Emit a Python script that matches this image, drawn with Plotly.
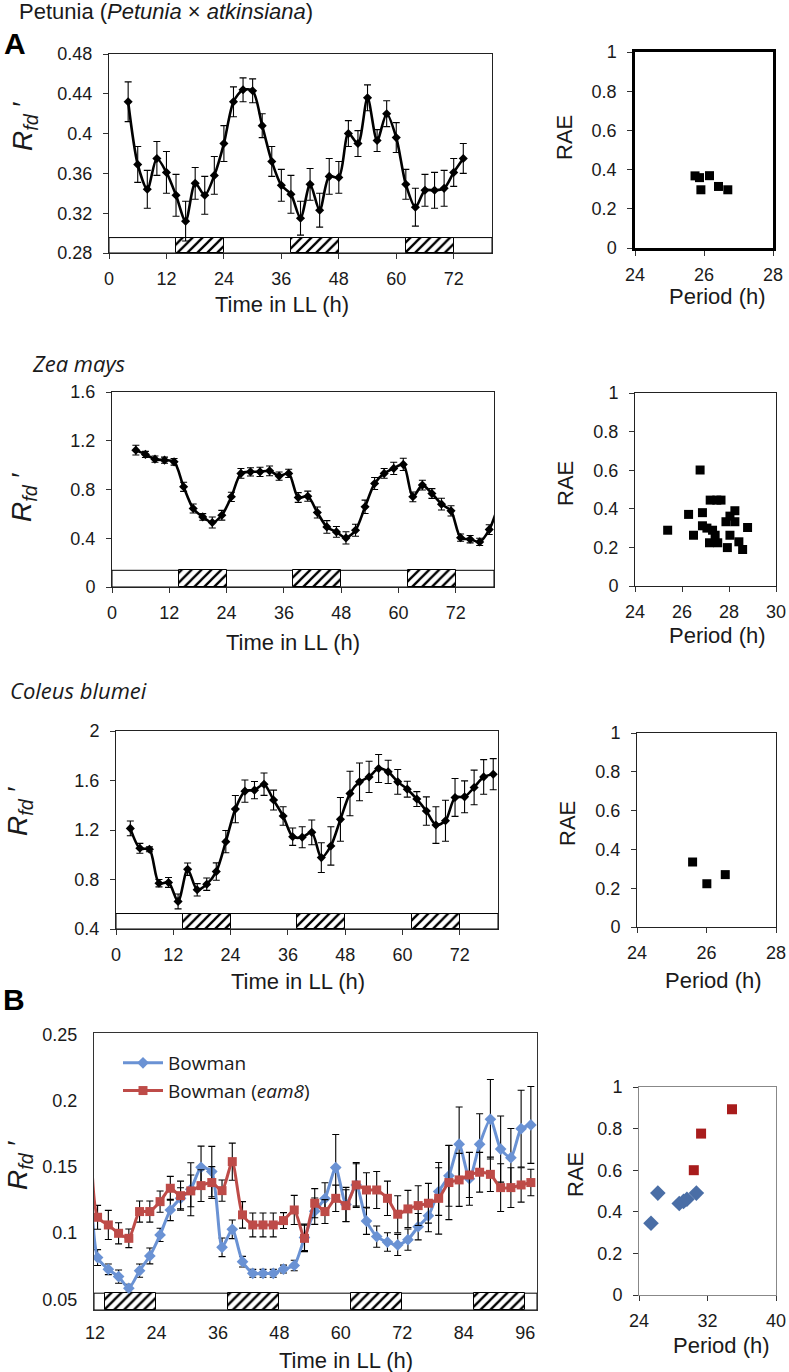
import plotly.graph_objects as go

W, H = 789, 1372

# ---------------- DATA ----------------
# Panel A - Petunia
pet_t = [4, 6, 8, 10, 12, 14, 16, 18, 20, 22, 24, 26, 28, 30, 32, 34, 36, 38, 40, 42,
         44, 46, 48, 50, 52, 54, 56, 58, 60, 62, 64, 66, 68, 70, 72, 74]
pet_y = [0.432, 0.369, 0.344, 0.375, 0.361, 0.338, 0.312, 0.350, 0.338, 0.358, 0.390, 0.432,
         0.444, 0.443, 0.408, 0.372, 0.348, 0.339, 0.315, 0.349, 0.323, 0.357, 0.356, 0.400,
         0.390, 0.436, 0.393, 0.420, 0.396, 0.349, 0.326, 0.343, 0.343, 0.345, 0.361, 0.375]
pet_err = [0.020, 0.018, 0.019, 0.017, 0.021, 0.021, 0.020, 0.016, 0.019, 0.019, 0.018, 0.015,
           0.012, 0.012, 0.012, 0.015, 0.016, 0.019, 0.017, 0.016, 0.017, 0.018, 0.016, 0.013,
           0.013, 0.013, 0.011, 0.013, 0.015, 0.015, 0.019, 0.016, 0.018, 0.018, 0.014, 0.015]
pet_period = [25.74, 25.87, 25.91, 26.16, 26.42, 26.69]
pet_rae = [0.368, 0.359, 0.297, 0.369, 0.314, 0.297]

# Zea mays
zea_t = [5, 7, 9, 11, 13, 15, 17, 19, 21, 23, 25, 27, 29, 31, 33, 35, 37, 39, 41, 43,
         45, 47, 49, 51, 53, 55, 57, 59, 61, 63, 65, 67, 69, 71, 73, 75, 77, 79, 81]
zea_y = [1.123, 1.088, 1.049, 1.041, 1.027, 0.822, 0.644, 0.575, 0.529, 0.589, 0.740, 0.932,
         0.945, 0.945, 0.953, 0.910, 0.932, 0.734, 0.745, 0.611, 0.493, 0.452, 0.403, 0.466,
         0.658, 0.849, 0.932, 0.973, 1.006, 0.740, 0.836, 0.767, 0.680, 0.625, 0.405, 0.392,
         0.370, 0.471, 0.680]
zea_err = [0.040, 0.025, 0.026, 0.025, 0.027, 0.037, 0.037, 0.027, 0.045, 0.040, 0.038, 0.040,
           0.034, 0.038, 0.040, 0.034, 0.034, 0.040, 0.042, 0.045, 0.052, 0.044, 0.050, 0.049,
           0.055, 0.049, 0.040, 0.050, 0.050, 0.040, 0.040, 0.040, 0.048, 0.042, 0.030, 0.030,
           0.030, 0.040, 0.040]
zea_period = [25.39, 26.28, 26.49, 26.77, 26.87, 26.87, 27.06, 27.20, 27.17, 27.30, 27.41, 27.48,
              27.52, 27.66, 27.87, 27.93, 28.04, 28.04, 28.25, 28.25, 28.42, 28.58, 28.79]
zea_rae = [0.289, 0.371, 0.263, 0.601, 0.380, 0.312, 0.300, 0.445, 0.224, 0.289, 0.263, 0.445,
           0.224, 0.445, 0.333, 0.199, 0.362, 0.263, 0.333, 0.390, 0.229, 0.189, 0.303]

# Coleus blumei
col_t = [3, 5, 7, 9, 11, 13, 15, 17, 19, 21, 23, 25, 27, 29, 31, 33, 35, 37, 39, 41,
         43, 45, 47, 49, 51, 53, 55, 57, 59, 61, 63, 65, 67, 69, 71, 73, 75, 77, 79]
col_y = [1.213, 1.052, 1.044, 0.770, 0.776, 0.623, 0.883, 0.717, 0.762, 0.864, 1.106, 1.369,
         1.514, 1.522, 1.570, 1.442, 1.313, 1.146, 1.141, 1.181, 0.977, 1.071, 1.286, 1.495,
         1.589, 1.629, 1.697, 1.670, 1.589, 1.530, 1.450, 1.353, 1.240, 1.275, 1.463, 1.468,
         1.544, 1.629, 1.651]
col_err = [0.06, 0.04, 0.02, 0.03, 0.04, 0.06, 0.05, 0.05, 0.05, 0.07, 0.09, 0.11,
           0.09, 0.07, 0.09, 0.08, 0.075, 0.07, 0.085, 0.10, 0.12, 0.155, 0.177, 0.18,
           0.153, 0.126, 0.113, 0.094, 0.10, 0.064, 0.06, 0.115, 0.148, 0.166, 0.153, 0.129,
           0.14, 0.14, 0.126]
col_period = [25.60, 26.01, 26.54]
col_rae = [0.335, 0.223, 0.270]

# Panel B - barley
bar_t = [10.5, 12.5, 14.6, 16.6, 18.6, 20.7, 22.7, 24.7, 26.7, 28.7, 30.7, 32.7, 34.8, 36.8,
         38.8, 40.8, 42.8, 44.8, 46.8, 48.8, 50.9, 52.9, 54.9, 56.9, 59.0, 61.0, 63.0, 65.0,
         67.0, 69.1, 71.1, 73.1, 75.1, 77.1, 79.1, 81.1, 83.1, 85.1, 87.1, 89.2, 91.2, 93.2,
         95.2, 97.1]
bow_y = [0.200, 0.0815, 0.0726, 0.0671, 0.0583, 0.0716, 0.0827, 0.0986, 0.1174, 0.1262, 0.1330,
         0.1496, 0.1464, 0.0892, 0.1028, 0.0784, 0.0696, 0.0696, 0.0696, 0.0728, 0.0755, 0.0967,
         0.1165, 0.1260, 0.1494, 0.1215, 0.1363, 0.1090, 0.0973, 0.0932, 0.0910, 0.0950, 0.1048,
         0.1130, 0.1313, 0.1432, 0.1671, 0.1410, 0.1670, 0.1859, 0.1634, 0.1569, 0.1788, 0.1816]
bow_err = [0.010, 0.006, 0.004, 0.005, 0.003, 0.005, 0.006, 0.005, 0.008, 0.008, 0.020, 0.016,
           0.019, 0.007, 0.007, 0.004, 0.003, 0.003, 0.003, 0.003, 0.004, 0.010, 0.010, 0.012,
           0.025, 0.013, 0.016, 0.010, 0.008, 0.007, 0.008, 0.008, 0.010, 0.012, 0.018, 0.023,
           0.028, 0.020, 0.023, 0.030, 0.025, 0.022, 0.029, 0.029]
eam_y = [0.400, 0.1119, 0.1061, 0.0998, 0.0960, 0.1162, 0.1162, 0.1237, 0.1338, 0.1282, 0.1318,
         0.1358, 0.1381, 0.1320, 0.1539, 0.1137, 0.1061, 0.1061, 0.1061, 0.1094, 0.1174, 0.0960,
         0.1225, 0.1162, 0.1262, 0.1207, 0.1363, 0.1325, 0.1325, 0.1262, 0.1142, 0.1182, 0.1207,
         0.1225, 0.1262, 0.1381, 0.1401, 0.1438, 0.1459, 0.1443, 0.1343, 0.1343, 0.1363, 0.1381]
eam_err = [0.010, 0.009, 0.011, 0.008, 0.007, 0.008, 0.008, 0.008, 0.009, 0.011, 0.012, 0.012,
           0.012, 0.008, 0.014, 0.010, 0.009, 0.009, 0.009, 0.006, 0.011, 0.010, 0.011, 0.009,
           0.010, 0.012, 0.017, 0.013, 0.014, 0.013, 0.014, 0.014, 0.015, 0.015, 0.027, 0.028,
           0.020, 0.017, 0.015, 0.013, 0.018, 0.015, 0.013, 0.010]
bow_period = [25.4, 26.2, 28.7, 29.2, 29.6, 30.7]
bow_rae = [0.345, 0.490, 0.440, 0.450, 0.460, 0.490]
eam_period = [30.4, 31.25, 34.86]
eam_rae = [0.600, 0.776, 0.893]

# subjective-night intervals (hatched) in LL
dark_start_A = [14, 38, 62]
dark_end_A = [24, 48, 72]
dark_start_B = [14, 38, 62, 86]
dark_end_B = [24, 48, 72, 96]

# ---------------- LAYOUT HELPERS ----------------
FONT = "Arial, Liberation Sans, sans-serif"
CAL = "Open Sans, sans-serif"
TXT = "#1a1a1a"

def px(x):
    return x / W

def py(y):
    return 1 - y / H

# pixel boxes (left, right, top, bottom)
boxes = {
    1: (109, 492, 54, 253),
    2: (635, 773, 52, 248),
    3: (112, 494, 392, 587),
    4: (635, 776, 393, 586),
    5: (116, 498, 731, 929),
    6: (637, 776, 733, 927),
    7: (94, 537, 1033, 1310),
    8: (639, 776, 1087, 1295),
}

fig = go.Figure()
layout = {}


def ax_names(k):
    return ("x" if k == 1 else f"x{k}"), ("y" if k == 1 else f"y{k}")


def set_axes(k, xr, yr, xt, yt, lc="#222", lw=1, xticks="outside", yticks="outside",
             xstand=4, ystand=7):
    l, r, t, b = boxes[k]
    xn, yn = ax_names(k)
    tf = dict(family=FONT, size=18, color=TXT)
    layout["xaxis" if k == 1 else f"xaxis{k}"] = dict(
        domain=[px(l), px(r)], range=xr, anchor=yn, tickvals=xt, ticks=xticks,
        ticklen=5, tickcolor="#333", showline=True, mirror=True, linecolor=lc,
        linewidth=lw, showgrid=False, zeroline=False, tickfont=tf, automargin=False,
        ticklabelstandoff=xstand, fixedrange=True)
    layout["yaxis" if k == 1 else f"yaxis{k}"] = dict(
        domain=[py(b), py(t)], range=yr, anchor=xn, tickvals=yt, ticks=yticks,
        ticklen=5, tickcolor="#333", showline=True, mirror=True, linecolor=lc,
        linewidth=lw, showgrid=False, zeroline=False, tickfont=tf, automargin=False,
        ticklabelstandoff=ystand, fixedrange=True)


shapes = []


def add_strip(k, ds, de, y0, y1):
    xn, yn = ax_names(k)
    shapes.append(dict(type="rect", xref=f"{xn} domain", x0=0, x1=1, yref=yn,
                       y0=y0, y1=y1, line=dict(color="black", width=1),
                       fillcolor="white", layer="below"))
    n = len(ds)
    fig.add_trace(go.Bar(
        x=[e - s for s, e in zip(ds, de)], base=ds, y=[(y0 + y1) / 2] * n,
        width=[y1 - y0] * n, orientation="h", xaxis=xn, yaxis=yn,
        marker=dict(color="white", line=dict(color="black", width=1),
                    pattern=dict(shape="/", fgcolor="black", bgcolor="white",
                                 size=7, solidity=0.33, fillmode="replace")),
        showlegend=False, hoverinfo="skip"))


def add_series(k, t, y, err, color="black", symbol="diamond", msize=7, lw=2.6,
               name=None, showlegend=False, smoothing=0.8):
    xn, yn = ax_names(k)
    fig.add_trace(go.Scatter(
        x=t, y=y, mode="lines+markers", xaxis=xn, yaxis=yn, name=name,
        showlegend=showlegend,
        line=dict(color=color, width=lw, shape="spline", smoothing=smoothing),
        marker=dict(symbol=symbol, size=msize, color=color),
        error_y=dict(type="data", array=err, visible=True, color="black",
                     thickness=1.1, width=3.5),
        hoverinfo="skip"))


def add_points(k, xv, yv, color="black", symbol="square", size=9, name=None):
    xn, yn = ax_names(k)
    fig.add_trace(go.Scatter(
        x=xv, y=yv, mode="markers", xaxis=xn, yaxis=yn, showlegend=False,
        marker=dict(symbol=symbol, size=size, color=color), hoverinfo="skip", name=name))


# ---------------- PANELS ----------------
# A1 Petunia
set_axes(1, [0, 80], [0.28, 0.48], [0, 12, 24, 36, 48, 60, 72],
         [0.28, 0.32, 0.36, 0.40, 0.44, 0.48])
add_strip(1, dark_start_A, dark_end_A, 0.28, 0.2955)
add_series(1, pet_t, pet_y, pet_err)
set_axes(2, [24, 28], [0, 1], [24, 26, 28], [0, 0.2, 0.4, 0.6, 0.8, 1], lc="black", lw=2.5)
add_points(2, pet_period, pet_rae)

# A2 Zea mays
set_axes(3, [0, 80], [0, 1.6], [0, 12, 24, 36, 48, 60, 72], [0, 0.4, 0.8, 1.2, 1.6])
add_strip(3, dark_start_A, dark_end_A, 0, 0.137)
add_series(3, zea_t, zea_y, zea_err)
set_axes(4, [24, 30], [0, 1], [24, 26, 28, 30], [0, 0.2, 0.4, 0.6, 0.8, 1])
add_points(4, zea_period, zea_rae)

# A3 Coleus blumei
set_axes(5, [0, 80], [0.4, 2.0], [0, 12, 24, 36, 48, 60, 72], [0.4, 0.8, 1.2, 1.6, 2.0])
add_strip(5, dark_start_A, dark_end_A, 0.4, 0.525)
add_series(5, col_t, col_y, col_err)
set_axes(6, [24, 28], [0, 1], [24, 26, 28], [0, 0.2, 0.4, 0.6, 0.8, 1])
add_points(6, col_period, col_rae)

# B barley
set_axes(7, [11.8, 98.3], [0.0419, 0.251], [12, 24, 36, 48, 60, 72, 84, 96],
         [0.05, 0.10, 0.15, 0.20, 0.25], lc="#333", xticks="", yticks="", xstand=6, ystand=12)
add_strip(7, dark_start_B, dark_end_B, 0.0419, 0.0546)
add_series(7, bar_t, bow_y, bow_err, color="#6A92D4", symbol="diamond", msize=9, lw=3,
           name="Bowman", showlegend=True, smoothing=0.6)
add_series(7, bar_t, eam_y, eam_err, color="#BE4B48", symbol="square", msize=9, lw=3,
           name="Bowman (<i>eam8</i>)", showlegend=True, smoothing=0.6)
set_axes(8, [24, 40], [0, 1], [24, 32, 40], [0, 0.2, 0.4, 0.6, 0.8, 1], lc="#888")
add_points(8, bow_period, bow_rae, color="#4A6EA6", symbol="diamond", size=12)
add_points(8, eam_period, eam_rae, color="#A81C1C", symbol="square", size=10)

# ---------------- TEXT ----------------
ann = []


def text(x, y, s, size=21, family=FONT, angle=0, xanchor="center", color=TXT):
    ann.append(dict(x=px(x), y=py(y), xref="paper", yref="paper", text=s,
                    showarrow=False, textangle=angle, xanchor=xanchor, yanchor="middle",
                    font=dict(family=family, size=size, color=color)))


RFD = "<i>R</i><sub><i>fd</i></sub> ′"

text(17, 12, "Petunia (<i>Petunia</i> × <i>atkinsiana</i>)", size=22, xanchor="left")
text(2, 44, "<b>A</b>", size=30, xanchor="left", color="black")
text(30, 363, "<i>Zea mays</i>", size=22, family=CAL, xanchor="left")
text(8, 690, "<i>Coleus blumei</i>", size=22, family=CAL, xanchor="left")
text(1, 1000, "<b>B</b>", size=30, xanchor="left", color="black")

# x titles
text(282, 305, "Time in LL (h)", size=22)
text(293, 642, "Time in LL (h)", size=22)
text(298, 981, "Time in LL (h)", size=22)
text(346, 1360, "Time in LL (h)", size=22)
text(717, 297, "Period (h)", size=22)
text(717, 635, "Period (h)", size=22)
text(713, 980, "Period (h)", size=22)
text(721, 1345, "Period (h)", size=22)

# y titles
text(25, 126, RFD, size=28, angle=-90)
text(23, 497, RFD, size=28, angle=-90)
text(19, 811, RFD, size=28, angle=-90)
text(19, 1165, RFD, size=28, angle=-90)
text(565, 138, "RAE", size=22, angle=-90)
text(565, 484, "RAE", size=22, angle=-90)
text(568, 824, "RAE", size=22, angle=-90)
text(575, 1175, "RAE", size=22, angle=-90)

fig.update_layout(
    **layout,
    width=W, height=H, margin=dict(l=0, r=0, t=0, b=0, autoexpand=False),
    paper_bgcolor="white", plot_bgcolor="white",
    barmode="overlay", bargap=0,
    shapes=shapes, annotations=ann,
    legend=dict(x=px(118), y=py(1044), xanchor="left", yanchor="top",
                font=dict(family=CAL, size=19, color=TXT), bgcolor="rgba(0,0,0,0)",
                itemwidth=40, tracegroupgap=0),
    showlegend=True,
)

fig.write_html("out.html", config={"displayModeBar": False},
               post_script="document.body.style.margin='0';document.body.style.overflow='hidden';")
